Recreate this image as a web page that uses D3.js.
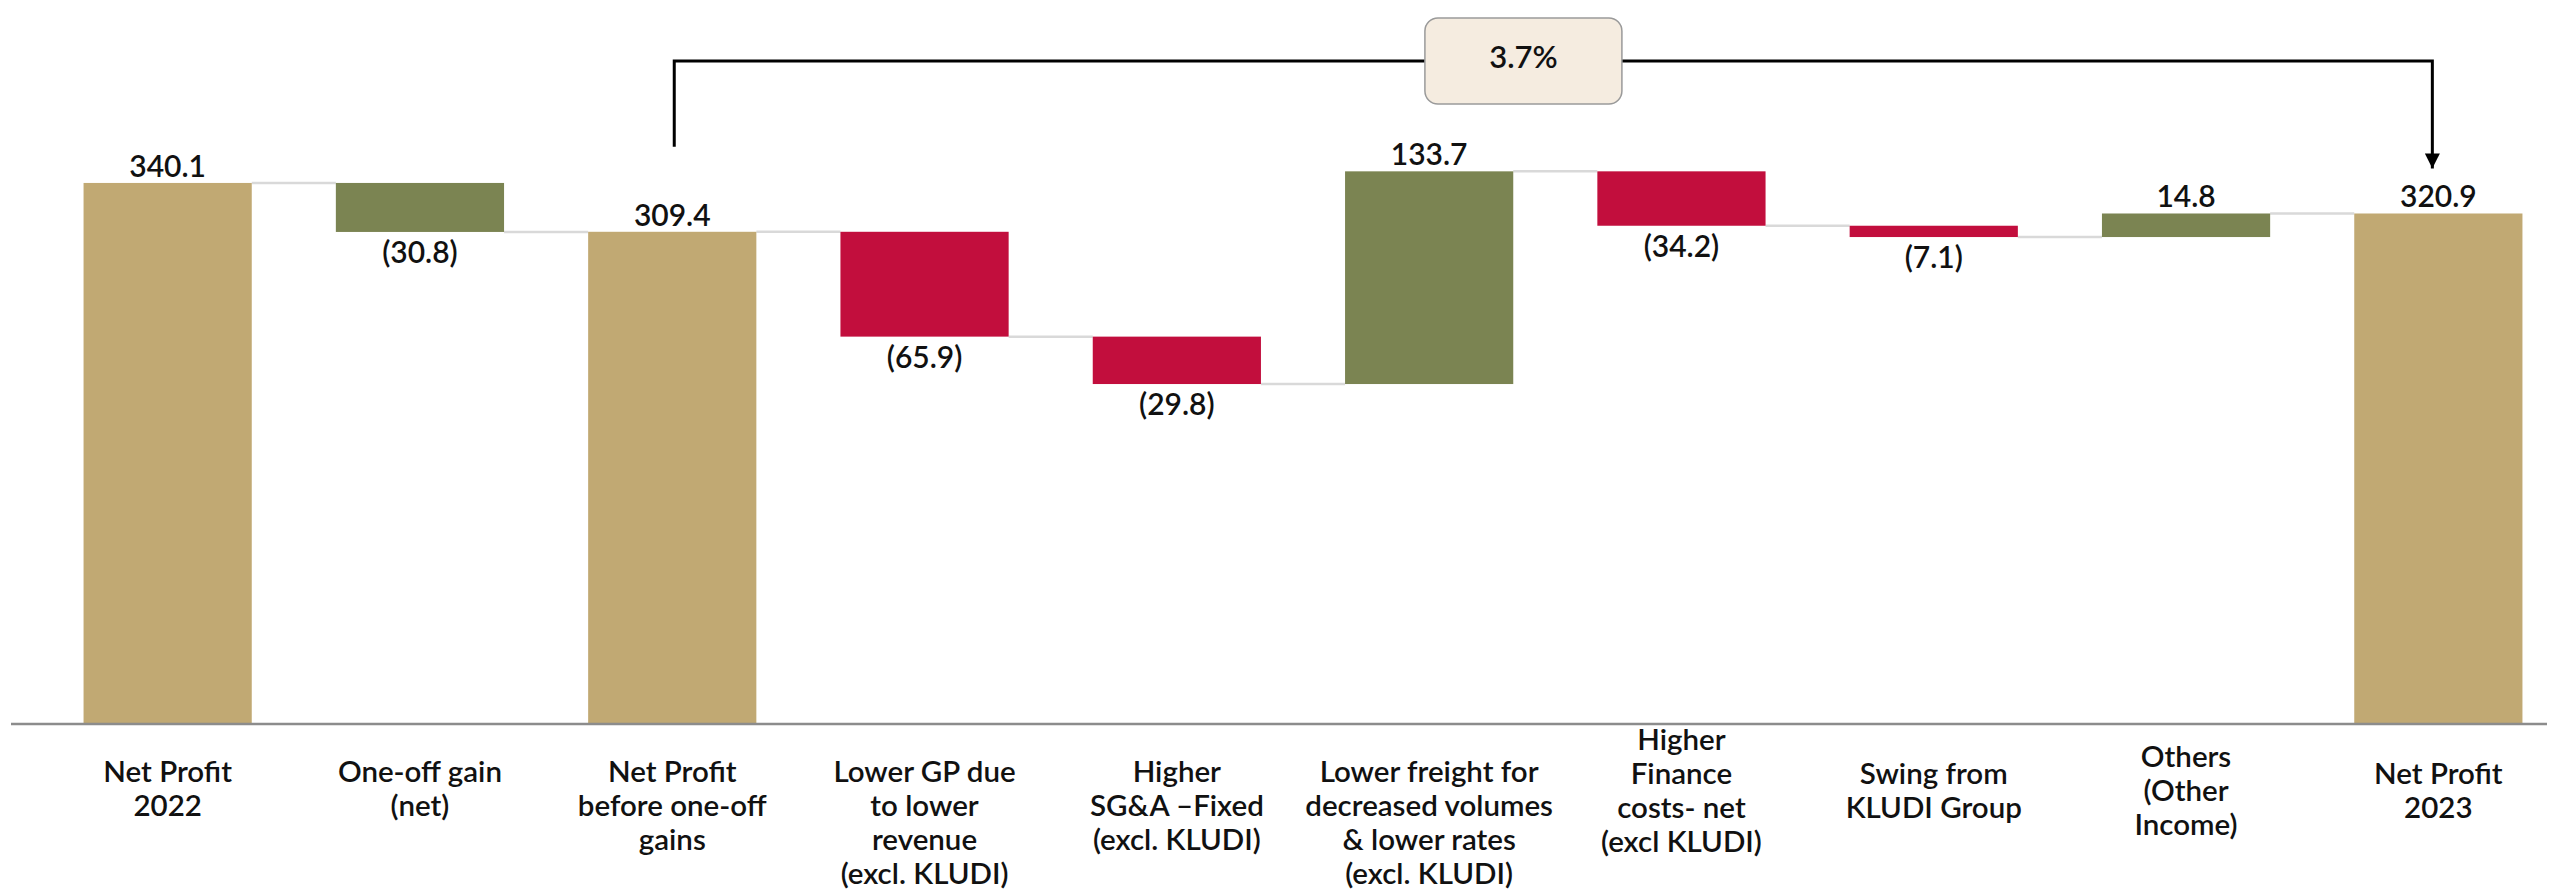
<!DOCTYPE html>
<html lang="en">

<head>
    <meta charset="UTF-8">
    <title>Net Profit bridge 2022 - 2023</title>
    <script src="https://cdn.jsdelivr.net/npm/d3@7"></script>
    <style>
        body { margin: 0; background: #fff; }
        text { font-family: Lato, 'Open Sans', sans-serif; font-weight: 600; fill: #111; }
    </style>
</head>

<body>
    <svg width="2554" height="890" id="mainsvg"></svg>
    <script>
        // categories (lines of each x label)
        const categories = [
            ['Net Profit', '2022'],
            ['One-off gain', '(net)'],
            ['Net Profit', 'before one-off', 'gains'],
            ['Lower GP due', 'to lower', 'revenue', '(excl.  KLUDI)'],
            ['Higher', 'SG&A \u2013Fixed', '(excl. KLUDI)'],
            ['Lower freight for', 'decreased volumes', '& lower rates', '(excl. KLUDI)'],
            ['Higher', 'Finance', 'costs- net', '(excl KLUDI)'],
            ['Swing from', 'KLUDI Group'],
            ['Others', '(Other', 'Income)'],
            ['Net Profit', '2023']
        ];
        const values = [340.1, -30.8, 309.4, -65.9, -29.8, 133.7, -34.2, -7.1, 14.8, 320.9];
        const kinds = ['total', 'gain', 'total', 'loss', 'loss', 'gain', 'loss', 'loss', 'gain', 'total'];
        const changeLabel = '3.7%';

        const colors = { total: '#C1A973', gain: '#7B8452', loss: '#C20E3D' };

        const svg = d3.select('#mainsvg');
        const width = +svg.attr('width');
        const height = +svg.attr('height');
        const baseY = 724;

        const keys = categories.map((c, i) => 'c' + i);

        // running totals -> start / end of every bar
        let level = 0;
        const bars = values.map((v, i) => {
            let start, end;
            if (kinds[i] === 'total') { start = 0; end = v; }
            else { start = level; end = level + v; }
            level = end;
            return { key: keys[i], lines: categories[i], value: v, kind: kinds[i], start, end };
        });

        const xScale = d3.scaleBand()
            .domain(keys)
            .range([41.5, 41.5 + 2523])
            .paddingInner(1 / 3)
            .paddingOuter(1 / 6);
        const yScale = d3.scaleLinear()
            .domain([0, 455.1])
            .range([baseY, 0]);

        const g = svg.append('g');

        // connectors
        bars.slice(0, -1).forEach((d, i) => {
            const next = bars[i + 1];
            g.append('line')
                .attr('x1', xScale(d.key) + xScale.bandwidth())
                .attr('x2', xScale(next.key))
                .attr('y1', yScale(d.end))
                .attr('y2', yScale(d.end))
                .attr('stroke', '#D9D9D9')
                .attr('stroke-width', 2.5);
        });

        g.selectAll('rect.bar').data(bars).enter()
            .append('rect')
            .attr('class', 'bar')
            .attr('x', d => xScale(d.key))
            .attr('width', xScale.bandwidth())
            .attr('y', d => yScale(Math.max(d.start, d.end)))
            .attr('height', d => Math.abs(yScale(d.start) - yScale(d.end)))
            .attr('fill', d => colors[d.kind]);

        // value labels
        g.selectAll('text.val').data(bars).enter()
            .append('text')
            .attr('class', 'val')
            .attr('x', d => xScale(d.key) + xScale.bandwidth() / 2)
            .attr('y', d => d.value < 0 ? yScale(Math.min(d.start, d.end)) + 31 : yScale(Math.max(d.start, d.end)) - 6)
            .attr('text-anchor', 'middle')
            .attr('font-size', 30)
            .text(d => d.value < 0 ? '(' + d3.format('.1f')(-d.value) + ')' : d3.format('.1f')(d.value));

        // x axis line (no ticks)
        const xAxis = d3.axisBottom(xScale).tickSize(0).tickFormat('');
        const axisG = g.append('g').attr('transform', `translate(0,${baseY})`).call(xAxis);
        axisG.select('.domain').attr('d', `M11,0H2547`).attr('stroke', '#8C8C8C').attr('stroke-width', 2.5);

        // category labels
        const lineH = 34;
        bars.forEach((d, i) => {
            const n = d.lines.length;
            const first = i < 6 ? 782 : 801 - (n - 1) * lineH / 2;
            const t = g.append('text')
                .attr('text-anchor', 'middle')
                .attr('font-size', 29.5)
                .attr('x', xScale(d.key) + xScale.bandwidth() / 2)
                .attr('y', first);
            d.lines.forEach((l, j) => {
                t.append('tspan')
                    .attr('x', xScale(d.key) + xScale.bandwidth() / 2)
                    .attr('y', first + j * lineH)
                    .text(l);
            });
        });

        // change annotation from Net Profit before one-off gains to Net Profit 2023
        const from = bars[2], to = bars[9];
        const xa = xScale(from.key) + xScale.bandwidth() / 2 + 2;
        const xb = xScale(to.key) + xScale.bandwidth() / 2 - 6;
        const topY = 61;
        const ya = yScale(from.end) - 85;
        const yb = yScale(to.end) - 45;

        svg.append('defs').append('marker')
            .attr('id', 'arrow')
            .attr('viewBox', '0 0 10 10')
            .attr('refX', 10).attr('refY', 5)
            .attr('markerWidth', 5).attr('markerHeight', 5)
            .attr('markerUnits', 'strokeWidth')
            .attr('orient', 'auto')
            .append('path').attr('d', 'M0,0L10,5L0,10Z').attr('fill', '#000');

        g.append('path')
            .attr('d', `M${xa},${ya}V${topY}H${xb}V${yb}`)
            .attr('fill', 'none')
            .attr('stroke', '#000')
            .attr('stroke-width', 3)
            .attr('marker-end', 'url(#arrow)');

        const boxCx = xa + (xb - xa) * 0.483;
        const boxW = 197, boxH = 86;
        g.append('rect')
            .attr('x', boxCx - boxW / 2)
            .attr('y', topY - boxH / 2 + 0)
            .attr('width', boxW)
            .attr('height', boxH)
            .attr('rx', 13)
            .attr('fill', '#F5ECE0')
            .attr('stroke', '#9A9A9A')
            .attr('stroke-width', 1.5);
        g.append('text')
            .attr('x', boxCx)
            .attr('y', topY + 7)
            .attr('text-anchor', 'middle')
            .attr('font-size', 31)
            .text(changeLabel);
    </script>
</body>

</html>
